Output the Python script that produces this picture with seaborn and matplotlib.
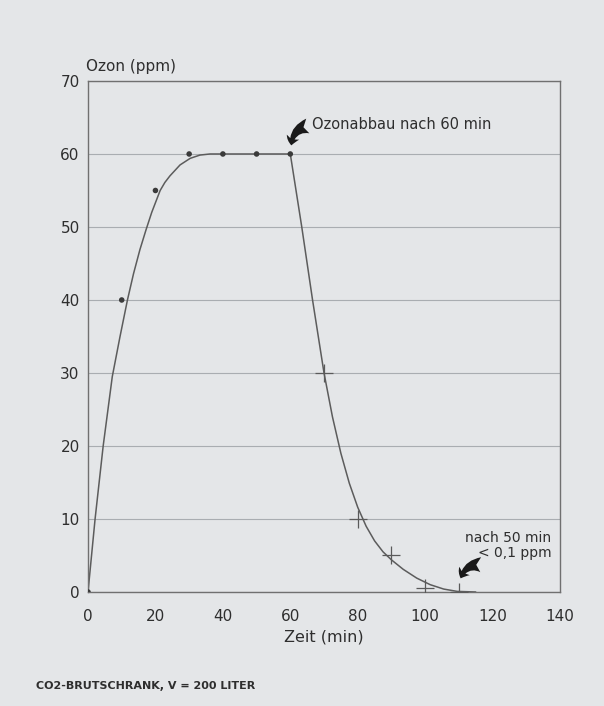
import numpy as np
import pandas as pd
import matplotlib
matplotlib.use("Agg")
import matplotlib.pyplot as plt
import seaborn as sns

# Messpunkte: Anstieg (Punkte) und Abbau (Kreuze)
rise_t = [0, 10, 20, 30, 40, 50, 60]
rise_ppm = [0, 40, 55, 60, 60, 60, 60]
decay_t = [70, 80, 90, 100, 110]
decay_ppm = [30, 10, 5, 0.5, 0]

curve_rise_t = [0, 2.1, 4.5, 7.2, 9.5, 11.7, 13.5, 15.4, 17.2, 18.9, 21.4,
                22.8, 24.3, 27.3, 30.3, 33.2, 36.2, 45, 60]
curve_rise_ppm = [0, 10, 20, 29.5, 35, 40, 43.6, 46.9, 49.6, 52.0, 55.0,
                  56.1, 57.0, 58.5, 59.4, 59.85, 60, 60, 60]
curve_decay_t = [60, 63.4, 66.6, 70, 72.5, 75, 77.5, 80, 82.5, 85, 87.5,
                 90, 93.5, 97.5, 101.5, 105.5, 109.5, 115]
curve_decay_ppm = [60, 50, 40, 30, 24, 19, 14.9, 11.6, 9.0, 7.0, 5.5,
                   4.4, 3.1, 1.9, 1.0, 0.4, 0.08, 0]

x_ticks = [0, 20, 40, 60, 80, 100, 120, 140]
y_ticks = [0, 10, 20, 30, 40, 50, 60, 70]

BG = "#e4e6e8"
INK = "#2e2e2e"
LINE = "#5c5c5c"

sns.set_theme(style="white")
plt.rcParams["font.family"] = ["DejaVu Sans"]

fig = plt.figure(figsize=(6.04, 7.06), dpi=100, facecolor=BG)
ax = fig.add_axes([0.1457, 0.1615, 0.7815, 0.7238])
ax.set_facecolor(BG)

df_rise = pd.DataFrame({"t": curve_rise_t, "ppm": curve_rise_ppm})
df_decay = pd.DataFrame({"t": curve_decay_t, "ppm": curve_decay_ppm})
sns.lineplot(data=df_rise, x="t", y="ppm", ax=ax, color=LINE, lw=1.1, sort=False)
sns.lineplot(data=df_decay, x="t", y="ppm", ax=ax, color=LINE, lw=1.1, sort=False)

sns.scatterplot(x=rise_t, y=rise_ppm, ax=ax, color="#3a3a3a", s=16,
                edgecolor="none", zorder=5)
sns.scatterplot(x=decay_t, y=decay_ppm, ax=ax, color="#5a5a5a", marker="+",
                s=170, linewidth=0.9, zorder=5)

ax.set_xlim(0, 140)
ax.set_ylim(0, 70)
ax.set_xticks(x_ticks)
ax.set_yticks(y_ticks)
ax.set_xticklabels([str(v) for v in x_ticks])
ax.set_yticklabels([str(v) for v in y_ticks])
ax.tick_params(axis="x", direction="in", length=7, width=0.9, color="#707070",
               labelsize=11, labelcolor=INK, pad=12)
ax.tick_params(axis="y", direction="out", length=3, width=0.9, color="#707070",
               labelsize=11, labelcolor=INK, pad=3)
ax.yaxis.grid(True, color="#a9adb1", lw=0.8)
ax.xaxis.grid(False)
for sp in ax.spines.values():
    sp.set_color("#707070")
    sp.set_linewidth(1.0)

ax.set_xlabel("Zeit (min)", fontsize=11.5, color=INK, labelpad=4)
ax.set_ylabel("")
fig.text(0.1425, 0.895, "Ozon (ppm)", fontsize=11, color=INK, ha="left", va="bottom")

# Anmerkungen mit gebogenen Pfeilen
arrow = dict(arrowstyle="fancy,head_length=0.5,head_width=0.8,tail_width=0.9",
             connectionstyle="arc3,rad=0.45", color="#1a1a1a", lw=0)
ax.annotate("", xy=(60.3, 60.8), xytext=(66.0, 63.9), arrowprops=arrow)
ax.text(66.5, 64.0, "Ozonabbau nach 60 min", fontsize=10.5, color=INK,
        ha="left", va="center")
ax.annotate("", xy=(110.3, 1.5), xytext=(117.3, 3.7), arrowprops=arrow)
ax.text(137.5, 6.4, "nach 50 min\n< 0,1 ppm", fontsize=10, color=INK,
        ha="right", va="center", linespacing=1.1)

fig.text(0.06, 0.029, "CO2-BRUTSCHRANK, V = 200 LITER", fontsize=8,
         color=INK, ha="left", va="center", fontweight="bold")

fig.savefig("out.png", dpi=100, facecolor=BG)
